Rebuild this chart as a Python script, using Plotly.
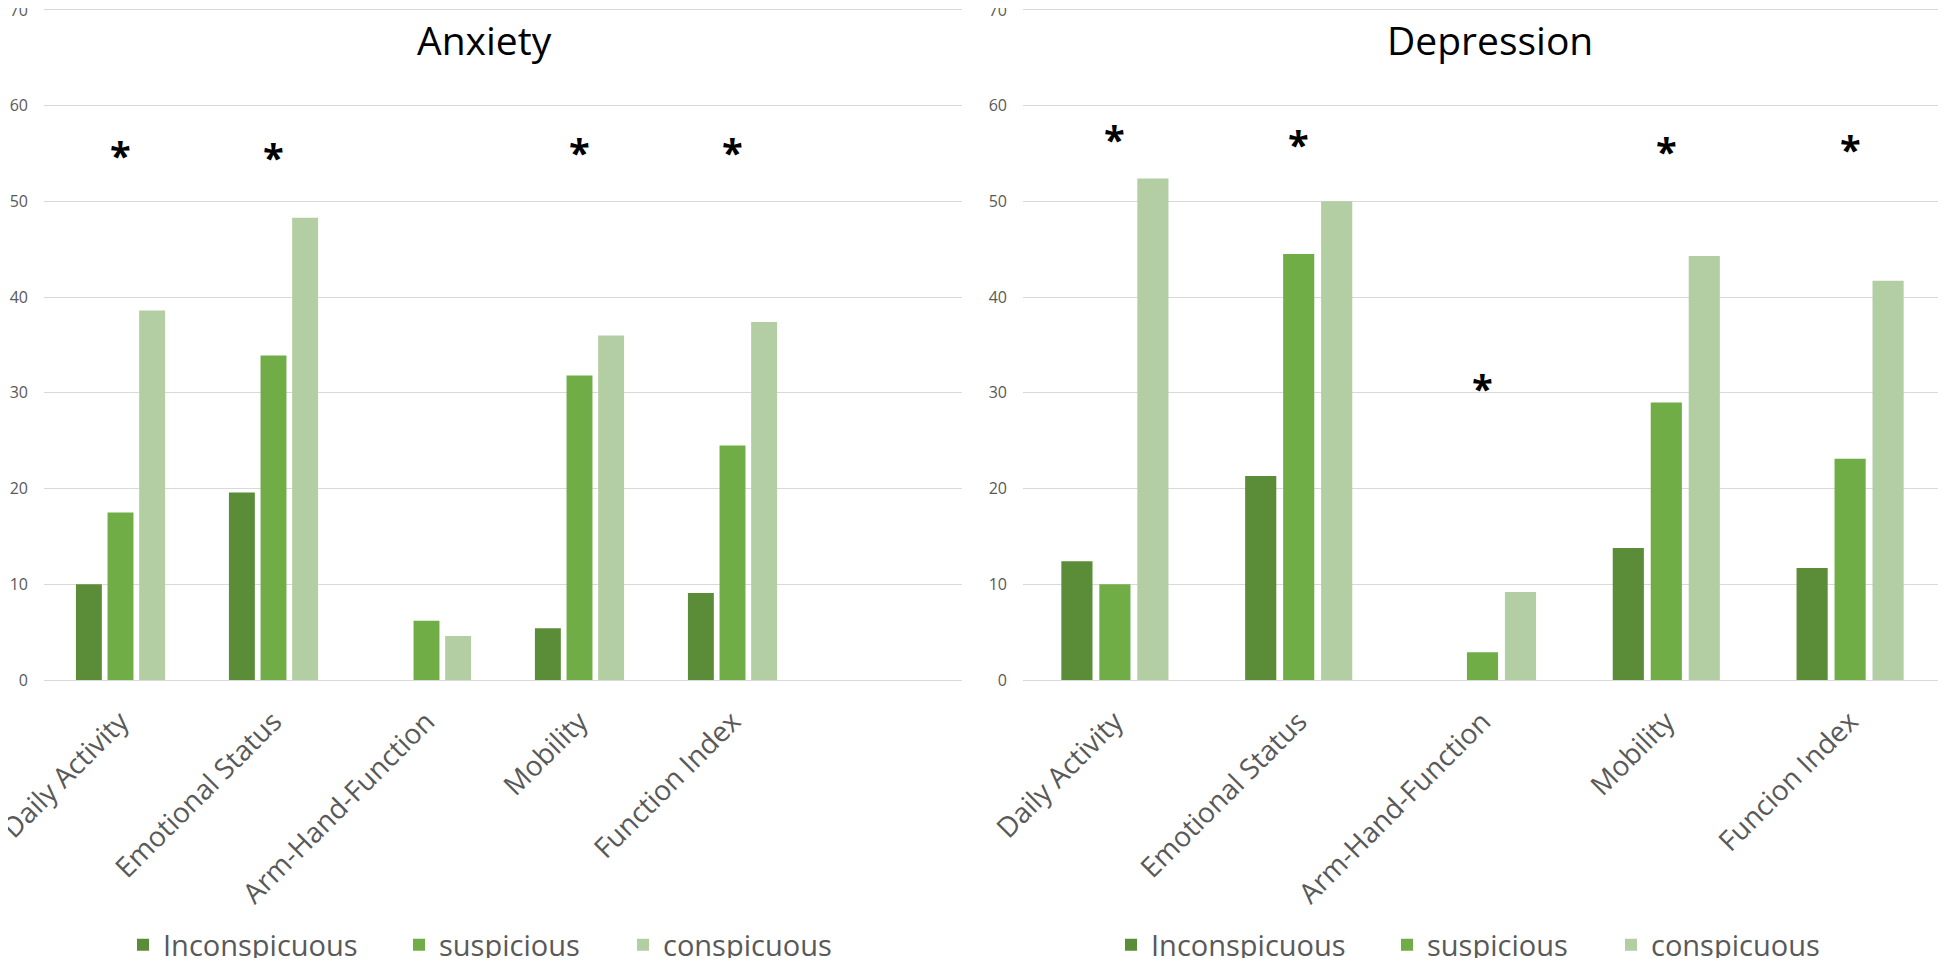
import plotly.graph_objects as go

# ---------------- data ----------------
groups = ["Inconspicuous", "suspicious", "conspicuous"]
colors = ["#5B8C37", "#70AD47", "#B3CEA3"]
legend_widths = [231, 179, 178]

anx_categories = ["Daily Activity", "Emotional Status", "Arm-Hand-Function", "Mobility", "Function Index"]
anx_inconspicuous = [10.0, 19.6, None, 5.4, 9.1]
anx_suspicious = [17.5, 33.9, 6.2, 31.8, 24.5]
anx_conspicuous = [38.6, 48.3, 4.6, 36.0, 37.4]
anx_star_categories = ["Daily Activity", "Emotional Status", "Mobility", "Function Index"]
anx_star_y = [55.5, 55.3, 55.8, 55.8]

dep_categories = ["Daily Activity", "Emotional Status", "Arm-Hand-Function", "Mobility", "Funcion Index"]
dep_inconspicuous = [12.4, 21.3, None, 13.8, 11.7]
dep_suspicious = [10.0, 44.5, 2.9, 29.0, 23.1]
dep_conspicuous = [52.4, 50.0, 9.2, 44.3, 41.7]
dep_star_categories = ["Daily Activity", "Emotional Status", "Arm-Hand-Function", "Mobility", "Funcion Index"]
dep_star_y = [57.1, 56.6, 31.1, 55.9, 56.1]

y_ticks = [0, 10, 20, 30, 40, 50, 60, 70]

# page is 1946x966; the html body has an 8px margin around the figure
PAGE_OFF = 8
W, H = 1930, 950
FONT = "Open Sans"
GRAY = "#595959"
GRID = "#D9D9D9"

def px_x(p):
    return (p - PAGE_OFF) / W

def px_y(p):
    return 1 - (p - PAGE_OFF) / H

fig = go.Figure()

anx_series = [anx_inconspicuous, anx_suspicious, anx_conspicuous]
dep_series = [dep_inconspicuous, dep_suspicious, dep_conspicuous]

for name, vals, col, lw in zip(groups, anx_series, colors, legend_widths):
    fig.add_trace(go.Bar(x=anx_categories, y=vals, name=name, marker_color=col,
                         marker_line_width=0, xaxis="x", yaxis="y", legend="legend",
                         legendwidth=lw))
for name, vals, col, lw in zip(groups, dep_series, colors, legend_widths):
    fig.add_trace(go.Bar(x=dep_categories, y=vals, name=name, marker_color=col,
                         marker_line_width=0, xaxis="x2", yaxis="y2", legend="legend2",
                         legendwidth=lw))

axis_common = dict(
    showgrid=False, showline=False, zeroline=False,
    ticks="outside", ticklen=13, tickcolor="rgba(0,0,0,0)", automargin=False,
    tickfont=dict(family=FONT, size=28, color=GRAY), tickangle=-45,
    type="category", ticklabeloverflow="allow",
)
yaxis_common = dict(
    range=[0, 70.2], tickvals=y_ticks, showgrid=True, gridcolor=GRID, gridwidth=1,
    zeroline=True, zerolinecolor=GRID, zerolinewidth=1, showline=False, ticks="",
    automargin=False, ticklabeloverflow="allow",
    tickfont=dict(family=FONT, size=16, color=GRAY), ticklabelstandoff=15,
)

right_end_ref = 1938  # reference pixel where right panel is cut by the page
right_range_end = 4.5 - (1942 - right_end_ref) / ((1942 - 1023) / 5)

fig.update_layout(
    width=W, height=H,
    margin=dict(l=0, r=0, t=0, b=0, autoexpand=False),
    paper_bgcolor="white", plot_bgcolor="white",
    barmode="group", bargap=0.38, bargroupgap=0.18,
    font=dict(family=FONT, color=GRAY),
    xaxis=dict(domain=[px_x(44), px_x(962)], range=[-0.5, 5.5], anchor="y", **axis_common),
    yaxis=dict(domain=[px_y(680), 1], anchor="x", **yaxis_common),
    xaxis2=dict(domain=[px_x(1023), px_x(right_end_ref)], range=[-0.5, right_range_end],
                anchor="y2", **axis_common),
    yaxis2=dict(domain=[px_y(680), 1], anchor="x2", **yaxis_common),
    legend=dict(orientation="h", x=px_x(123), y=px_y(945), xanchor="left", yanchor="middle",
                font=dict(family=FONT, size=29, color=GRAY), bgcolor="rgba(0,0,0,0)"),
    legend2=dict(orientation="h", x=px_x(1111), y=px_y(945), xanchor="left", yanchor="middle",
                 font=dict(family=FONT, size=29, color=GRAY), bgcolor="rgba(0,0,0,0)"),
    showlegend=True,
)

annotations = []
annotations.append(dict(text="Anxiety", x=px_x(484), y=px_y(40), xref="paper", yref="paper",
                        showarrow=False, xanchor="center", yanchor="middle",
                        font=dict(family=FONT, size=39, color="black")))
annotations.append(dict(text="Depression", x=px_x(1490), y=px_y(40), xref="paper", yref="paper",
                        showarrow=False, xanchor="center", yanchor="middle",
                        font=dict(family=FONT, size=39, color="black")))
for c, yv in zip(anx_star_categories, anx_star_y):
    annotations.append(dict(text="<b>*</b>", x=c, y=yv, xref="x", yref="y", showarrow=False,
                            xanchor="center", yanchor="middle", yshift=-6,
                            font=dict(family=FONT, size=38, color="black")))
for c, yv in zip(dep_star_categories, dep_star_y):
    annotations.append(dict(text="<b>*</b>", x=c, y=yv, xref="x2", yref="y2", showarrow=False,
                            xanchor="center", yanchor="middle", yshift=-6,
                            font=dict(family=FONT, size=38, color="black")))
fig.update_layout(annotations=annotations)

fig.write_html("out.html")
